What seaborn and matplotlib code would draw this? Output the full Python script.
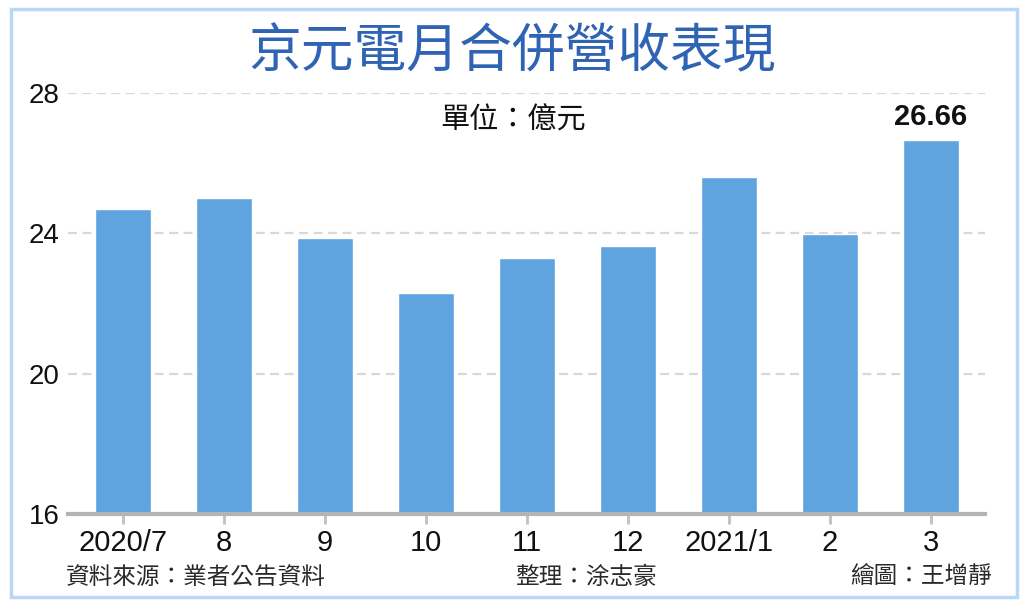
import matplotlib
matplotlib.use("Agg")
import matplotlib.pyplot as plt
import seaborn as sns
import pandas as pd
from matplotlib.patches import Rectangle

# monthly consolidated revenue, 100 million NTD
months = ['2020/7', '8', '9', '10', '11', '12', '2021/1', '2', '3']
revenue = [24.69, 25.00, 23.87, 22.31, 23.31, 23.65, 25.60, 23.99, 26.66]
yticks = [16, 20, 24, 28]

title = '京元電月合併營收表現'
unit_note = '單位：億元'
source_note = '資料來源：業者公告資料'
editor_note = '整理：涂志豪'
artist_note = '繪圖：王增靜'

df = pd.DataFrame({'month': months, 'revenue': revenue})

sns.set_theme(style='white')
cjk = ['Noto Sans CJK TC', 'DejaVu Sans']
num = ['Liberation Sans', 'DejaVu Sans']
plt.rcParams['font.family'] = cjk

fig = plt.figure(figsize=(10.24, 6.07), dpi=100)
ax = fig.add_axes([0.0664, 0.1532, 0.8956, 0.6936])

sns.barplot(data=df, x='month', y='revenue', order=months, color='#5fa4df',
            saturation=1, width=0.55, ax=ax)

ax.set_ylim(16, 28)
ax.set_xlim(-0.545, 8.535)
ax.set_yticks(yticks)
ax.set_xlabel('')
ax.set_ylabel('')

for y in yticks[1:]:
    ax.axhline(y, color='#d8d8d8', lw=1.6, ls=(0, (4, 2.5)), zorder=0)

for side in ['top', 'right', 'left']:
    ax.spines[side].set_visible(False)
ax.spines['bottom'].set_color('#b4b4b4')
ax.spines['bottom'].set_linewidth(3)

ax.tick_params(axis='x', length=7, width=2, color='#c0c0c0', pad=4, bottom=True)
ax.tick_params(axis='y', length=0, pad=6, left=False)
for lab in ax.get_xticklabels():
    lab.set_fontfamily(num)
    lab.set_fontsize(21)
    lab.set_color('#111111')
for lab in ax.get_yticklabels():
    lab.set_fontfamily(num)
    lab.set_fontsize(20)
    lab.set_color('#111111')

# highlight label for the latest month
ax.text(len(months) - 1, revenue[-1] + 0.25, f'{revenue[-1]:.2f}', ha='center', va='bottom',
        fontsize=21, fontweight='bold', family=num, color='#111111')

fig.text(0.5, 0.915, title, ha='center', va='center', fontsize=38, fontweight='medium',
         color='#2f63b3')
fig.text(0.501, 0.802, unit_note, ha='center', va='center', fontsize=21, color='#111111')
fig.text(0.064, 0.048, source_note, ha='left', va='center', fontsize=17, color='#2a2a2a')
fig.text(0.503, 0.048, editor_note, ha='left', va='center', fontsize=17, color='#2a2a2a')
fig.text(0.969, 0.051, artist_note, ha='right', va='center', fontsize=17, color='#2a2a2a')

fig.patches.append(Rectangle((0.011, 0.017), 0.982, 0.968, transform=fig.transFigure,
                             fill=False, edgecolor='#b8d8f4', lw=2.5))

fig.savefig('out.png', dpi=100)
